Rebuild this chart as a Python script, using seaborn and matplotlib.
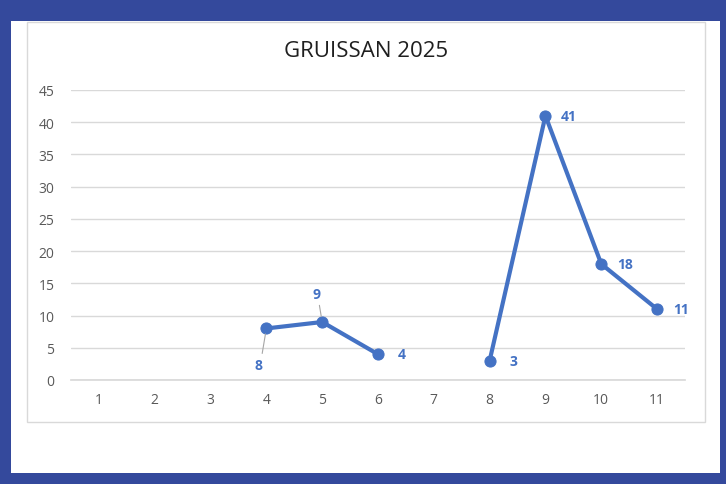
import matplotlib
matplotlib.use("Agg")
import matplotlib.pyplot as plt
import numpy as np
import pandas as pd
import seaborn as sns
from matplotlib.patches import Rectangle

# chart data
categories = ["1", "2", "3", "4", "5", "6", "7", "8", "9", "10", "11"]
values = [np.nan, np.nan, np.nan, 8, 9, 4, np.nan, 3, 41, 18, 11]
title = "GRUISSAN 2025"

LINE_BLUE = "#4472C4"
FRAME_BLUE = "#34499C"
TICK_GREY = "#595959"

sns.set_theme(style="white")
plt.rcParams["font.family"] = ["Open Sans", "DejaVu Sans"]

df = pd.DataFrame({"pos": np.arange(len(categories)), "label": categories, "value": values})
# split into connected runs so the missing category leaves a gap
df["segment"] = df["value"].isna().cumsum()
df = df.dropna(subset=["value"])

W, H = 726, 485
fig = plt.figure(figsize=(W / 100, H / 100), dpi=100)
fig.patch.set_facecolor(FRAME_BLUE)

# white panel and chart box
fig.patches.append(Rectangle((11 / W, 1 - 474 / H), (720 - 11) / W, (474 - 22) / H,
                             transform=fig.transFigure, facecolor="white", edgecolor="none", zorder=-2))
fig.patches.append(Rectangle((27 / W, 1 - 423 / H), (705 - 27) / W, (423 - 23) / H,
                             transform=fig.transFigure, facecolor="white", edgecolor="#D9D9D9",
                             linewidth=1, zorder=-1))

ax = fig.add_axes([71 / W, 1 - 381 / H, (685 - 71) / W, (381 - 91) / H])
ax.set_facecolor("none")
ax.set_zorder(5)

sns.lineplot(data=df, x="pos", y="value", units="segment", estimator=None,
             color=LINE_BLUE, linewidth=3, marker="o", markersize=8,
             markeredgecolor=LINE_BLUE, ax=ax, legend=False, zorder=3)

ax.set_xlim(-0.5, len(categories) - 0.5)
ax.set_ylim(0, 45)
ax.set_yticks(range(0, 46, 5))
ax.set_xticks(range(len(categories)))
ax.set_xticklabels(categories)
ax.yaxis.grid(True, color="#D9D9D9", linewidth=1)
ax.xaxis.grid(False)
for s in ["top", "right", "left"]:
    ax.spines[s].set_visible(False)
ax.spines["bottom"].set_color("#D9D9D9")
ax.tick_params(axis="both", length=0, labelsize=10, labelcolor=TICK_GREY)
ax.tick_params(axis="y", pad=12)
ax.tick_params(axis="x", pad=9)
ax.set_xlabel("")
ax.set_ylabel("")

# data labels (offsets in points)
offsets = {3: (-6, -26), 4: (-4, 20)}
for _, r in df.iterrows():
    dx, dy = offsets.get(int(r["pos"]), (17, 0))
    ax.annotate(f"{int(r['value'])}", (r["pos"], r["value"]), xytext=(dx, dy),
                textcoords="offset points", ha="center", va="center",
                fontsize=10, fontweight="bold", color=LINE_BLUE, zorder=4)
    if int(r["pos"]) in offsets:
        sign = 1 if dy > 0 else -1
        ax.annotate("", (r["pos"], r["value"]), xytext=(dx * 0.5, dy - sign * 8),
                    textcoords="offset points",
                    arrowprops=dict(arrowstyle="-", color="#A6A6A6", lw=0.8,
                                    shrinkA=0, shrinkB=4))

fig.text(366 / W, 1 - 52 / H, title, ha="center", va="center", fontsize=16, color="#1F1F1F")

fig.savefig("out.png", dpi=100, facecolor=fig.get_facecolor())
